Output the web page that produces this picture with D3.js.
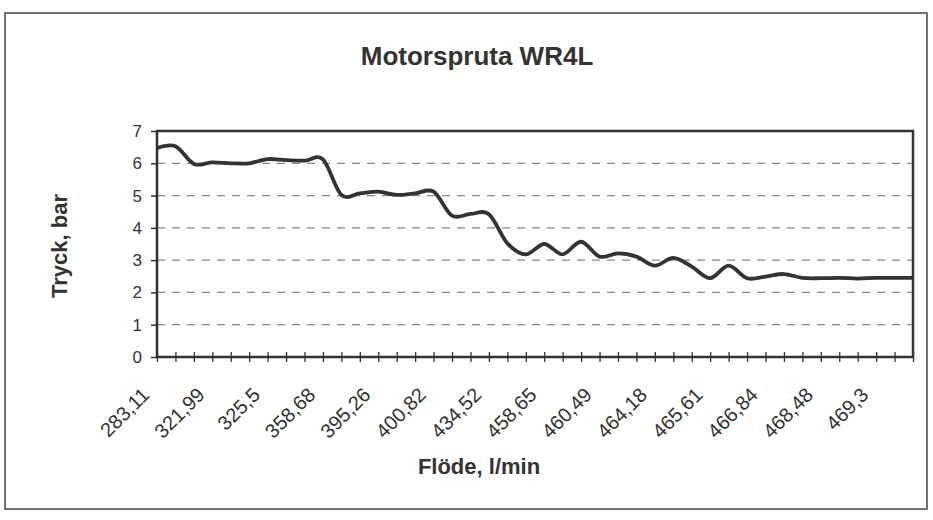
<!DOCTYPE html>
<html>
<head>
<meta charset="utf-8">
<script src="https://cdn.jsdelivr.net/npm/d3@7"></script>
<style>
  body { margin: 0; background: #fff; }
  text { font-family: "Liberation Sans", Arial, sans-serif; fill: #333; }
</style>
</head>
<body>
<svg width="933" height="520"></svg>
<script>
let width = 933,
    height = 520;

const pressure = [6.47, 6.53, 5.98, 6.03, 6.0, 6.0, 6.13, 6.10, 6.08, 6.12,
                  5.02, 5.07, 5.12, 5.02, 5.07, 5.12, 4.38, 4.43, 4.42, 3.52,
                  3.18, 3.50, 3.18, 3.57, 3.11, 3.21, 3.11, 2.83, 3.07, 2.80,
                  2.44, 2.83, 2.44, 2.49, 2.57, 2.45, 2.44, 2.45, 2.43, 2.45,
                  2.45, 2.45];

// only every third flow value is labelled on the axis
const flowLabels = ["283,11", "321,99", "325,5", "358,68", "395,26", "400,82", "434,52",
                    "458,65", "460,49", "464,18", "465,61", "466,84", "468,48", "469,3"];
const labelStep = 3;

const yTicks = [0, 1, 2, 3, 4, 5, 6, 7];

let svg = d3.select("svg");

let margin = { left: 157, right: 20, top: 131, bottom: 163 };
let plotW = 913 - margin.left,
    plotH = 357 - margin.top;

// outer chart border
svg.append("rect")
    .attr("x", 5).attr("y", 13)
    .attr("width", 922).attr("height", 496)
    .attr("fill", "none")
    .attr("stroke", "#444")
    .attr("stroke-width", 1.5);

let x = d3.scaleLinear().domain([0, pressure.length - 1]).range([0, plotW]);
let y = d3.scaleLinear().domain([0, 7]).range([plotH, 0]);

let g = svg.append("g").attr("transform", `translate(${margin.left},${margin.top})`);

// dashed gridlines
g.append("g")
    .selectAll("line")
    .data(yTicks.filter(d => d > 0 && d < 7))
    .enter()
    .append("line")
    .attr("x1", 0).attr("x2", plotW)
    .attr("y1", d => y(d)).attr("y2", d => y(d))
    .attr("stroke", "#888")
    .attr("stroke-width", 1.3)
    .attr("stroke-dasharray", "8,7");

// y axis
let yAxis = g.append("g")
    .call(d3.axisLeft(y).tickValues(yTicks).tickFormat(d3.format("d")).tickSize(6).tickPadding(9));
yAxis.select(".domain").remove();
yAxis.selectAll("line").attr("stroke", "#333").attr("stroke-width", 1.5);
yAxis.selectAll("text").style("font-size", "17px").attr("fill", "#333");

// x axis: a tick on every point, labels every third
let xAxis = g.append("g")
    .attr("transform", `translate(0,${plotH})`)
    .call(d3.axisBottom(x)
        .tickValues(d3.range(pressure.length))
        .tickSize(0)
        .tickFormat(i => i % labelStep === 0 ? flowLabels[i / labelStep] : ""));
xAxis.select(".domain").remove();
xAxis.selectAll(".tick line").remove();
xAxis.selectAll(".tick")
    .append("line")
    .attr("y1", -5).attr("y2", 5)
    .attr("stroke", "#333").attr("stroke-width", 1.3);
xAxis.selectAll("text")
    .style("font-size", "20px")
    .attr("fill", "#333")
    .attr("text-anchor", "end")
    .attr("dy", 0)
    .attr("transform", "translate(-9,37) rotate(-45)");

// plot area frame
g.append("rect")
    .attr("width", plotW).attr("height", plotH)
    .attr("fill", "none")
    .attr("stroke", "#333")
    .attr("stroke-width", 2.5);

// smoothed line
let line = d3.line()
    .x((d, i) => x(i))
    .y(d => y(d))
    .curve(d3.curveCardinal.tension(0));

g.append("path")
    .datum(pressure)
    .attr("d", line)
    .attr("fill", "none")
    .attr("stroke", "#333")
    .attr("stroke-width", 3.8)
    .attr("stroke-linejoin", "round");

// titles
svg.append("text")
    .attr("x", 477).attr("y", 65)
    .attr("text-anchor", "middle")
    .style("font-size", "26px")
    .style("font-weight", "bold")
    .text("Motorspruta WR4L");

svg.append("text")
    .attr("transform", "translate(67,246) rotate(-90)")
    .attr("text-anchor", "middle")
    .style("font-size", "22px")
    .style("font-weight", "bold")
    .text("Tryck, bar");

svg.append("text")
    .attr("x", 479).attr("y", 474)
    .attr("text-anchor", "middle")
    .style("font-size", "22px")
    .style("font-weight", "bold")
    .text("Flöde, l/min");
</script>
</body>
</html>
